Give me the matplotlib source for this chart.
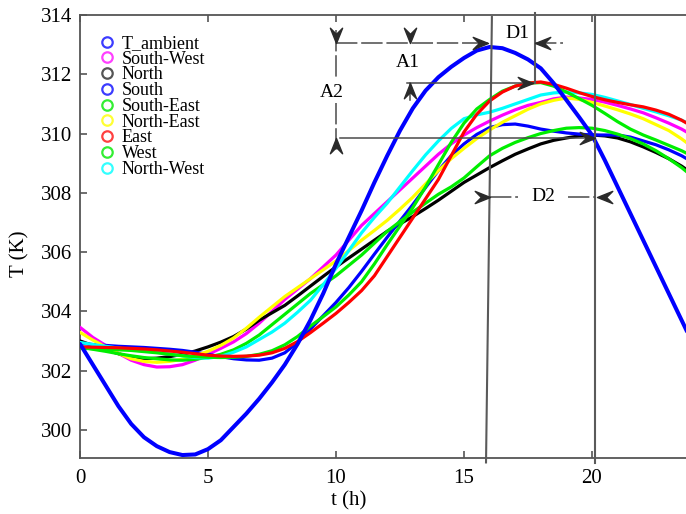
import matplotlib
matplotlib.use('Agg')
import matplotlib.pyplot as plt
from matplotlib.path import Path
from matplotlib.lines import Line2D

plt.rcParams['font.family'] = ['Liberation Serif', 'DejaVu Serif']

# ---------------- data (read every half hour) ----------------
hours = [0, 0.5, 1, 1.5, 2, 2.5, 3, 3.5, 4, 4.5, 5, 5.5, 6, 6.5, 7, 7.5, 8, 8.5, 9, 9.5, 10, 10.5,
         11, 11.5, 12, 12.5, 13, 13.5, 14, 14.5, 15, 15.5, 16, 16.5, 17, 17.5, 18, 18.5, 19, 19.5,
         20, 20.5, 21, 21.5, 22, 22.5, 23, 23.5, 24]

t_ambient = [302.9, 302.2, 301.5, 300.8, 300.2, 299.75, 299.45, 299.25, 299.15, 299.17, 299.35, 299.65,
             300.1, 300.55, 301.05, 301.6, 302.2, 302.9, 303.7, 304.6, 305.6, 306.5, 307.4, 308.35,
             309.25, 310.1, 310.85, 311.45, 311.9, 312.25, 312.55, 312.8, 312.92, 312.88, 312.72, 312.5,
             312.2, 311.7, 311.13, 310.55, 309.95, 309.1, 308.2, 307.3, 306.4, 305.5, 304.6, 303.7, 302.8]
south_west = [303.46, 303.12, 302.85, 302.58, 302.35, 302.2, 302.12, 302.13, 302.2, 302.35, 302.55, 302.75,
              302.97, 303.25, 303.6, 304.0, 304.4, 304.75, 305.1, 305.5, 305.9, 306.4, 306.9, 307.3,
              307.7, 308.1, 308.5, 308.9, 309.3, 309.65, 309.95, 310.2, 310.42, 310.62, 310.8, 310.95,
              311.05, 311.17, 311.23, 311.2, 311.15, 311.06, 310.95, 310.83, 310.7, 310.53, 310.35, 310.15, 309.9]
north = [303.0, 302.85, 302.7, 302.57, 302.45, 302.4, 302.42, 302.47, 302.55, 302.66, 302.8, 302.96,
         303.15, 303.4, 303.7, 303.95, 304.2, 304.52, 304.85, 305.18, 305.5, 305.8, 306.1, 306.4,
         306.7, 306.95, 307.2, 307.47, 307.75, 308.05, 308.35, 308.6, 308.85, 309.08, 309.3, 309.48,
         309.65, 309.77, 309.85, 309.92, 309.95, 309.92, 309.85, 309.72, 309.55, 309.36, 309.15, 308.9, 308.6]
south = [302.92, 302.88, 302.85, 302.82, 302.8, 302.78, 302.75, 302.72, 302.68, 302.62, 302.55, 302.47,
         302.4, 302.36, 302.35, 302.42, 302.6, 302.95, 303.4, 303.85, 304.3, 304.8, 305.35, 305.93,
         306.5, 307.05, 307.6, 308.18, 308.75, 309.25, 309.65, 309.97, 310.2, 310.3, 310.32, 310.25,
         310.15, 310.08, 310.02, 309.98, 309.95, 309.95, 309.95, 309.88, 309.75, 309.62, 309.45, 309.25, 309.0]
south_east = [302.75, 302.74, 302.72, 302.7, 302.68, 302.64, 302.6, 302.55, 302.5, 302.47, 302.45, 302.44,
              302.45, 302.48, 302.55, 302.67, 302.87, 303.15, 303.5, 303.82, 304.15, 304.55, 305.0, 305.6,
              306.25, 306.88, 307.5, 308.2, 308.95, 309.7, 310.35, 310.83, 311.15, 311.43, 311.6, 311.7,
              311.72, 311.6, 311.4, 311.18, 310.95, 310.68, 310.4, 310.15, 309.95, 309.78, 309.6, 309.42, 309.2]
north_east = [303.29, 303.03, 302.8, 302.58, 302.4, 302.31, 302.28, 302.31, 302.38, 302.5, 302.65, 302.85,
              303.1, 303.43, 303.8, 304.15, 304.5, 304.8, 305.1, 305.4, 305.7, 306.05, 306.4, 306.73,
              307.07, 307.45, 307.85, 308.3, 308.75, 309.15, 309.5, 309.83, 310.12, 310.38, 310.6, 310.82,
              311.0, 311.12, 311.2, 311.15, 311.05, 310.93, 310.8, 310.66, 310.5, 310.3, 310.1, 309.82, 309.5]
east = [302.8, 302.79, 302.78, 302.77, 302.75, 302.73, 302.7, 302.66, 302.62, 302.57, 302.52, 302.49,
        302.48, 302.49, 302.52, 302.6, 302.75, 302.98, 303.28, 303.6, 303.93, 304.3, 304.7, 305.2,
        305.85, 306.5, 307.15, 307.8, 308.45, 309.25, 310.05, 310.65, 311.1, 311.4, 311.6, 311.7,
        311.74, 311.66, 311.53, 311.38, 311.25, 311.14, 311.05, 310.97, 310.9, 310.79, 310.65, 310.45, 310.2]
west = [302.8, 302.72, 302.65, 302.57, 302.5, 302.44, 302.4, 302.36, 302.35, 302.38, 302.45, 302.55,
        302.7, 302.92, 303.2, 303.55, 303.9, 304.25, 304.6, 304.9, 305.2, 305.55, 305.9, 306.3,
        306.7, 307.03, 307.35, 307.65, 307.95, 308.2, 308.5, 308.88, 309.25, 309.5, 309.7, 309.86,
        310.0, 310.1, 310.18, 310.2, 310.18, 310.1, 309.98, 309.83, 309.65, 309.42, 309.15, 308.85, 308.5]
north_west = [302.95, 302.88, 302.82, 302.76, 302.7, 302.66, 302.62, 302.56, 302.5, 302.44, 302.42, 302.48,
              302.62, 302.8, 303.05, 303.3, 303.6, 303.97, 304.37, 304.9, 305.45, 306.05, 306.65, 307.17,
              307.65, 308.2, 308.75, 309.28, 309.75, 310.17, 310.5, 310.63, 310.72, 310.85, 311.0, 311.15,
              311.3, 311.37, 311.4, 311.37, 311.32, 311.22, 311.1, 310.98, 310.85, 310.73, 310.6, 310.45, 310.25]

labels = ['T_ambient', 'South-West', 'North', 'South', 'South-East', 'North-East', 'East', 'West', 'North-West']
line_colors = ['#0000ff', '#ff00ff', '#000000', '#0000ff', '#00ee00', '#ffff00', '#ff0000', '#00ee00', '#00ffff']
legend_colors = ['#3c3cff', '#ff40ff', '#555555', '#3c3cff', '#33ee33', '#ffff33', '#ff4040', '#33ee33', '#33ffff']
series = [t_ambient, south_west, north, south, south_east, north_east, east, west, north_west]

x_ticks = [0, 5, 10, 15, 20]
y_ticks = [300, 302, 304, 306, 308, 310, 312, 314]

# ---------------- figure ----------------
W, H = 686, 514
fig = plt.figure(figsize=(W / 100, H / 100), dpi=100)
ax = fig.add_axes([80 / W, 56 / H, 614.4 / W, 443 / H])

draw_order = [1, 2, 3, 5, 7, 8, 4, 6, 0]
for i in draw_order:
    lw = 2.9 if i == 0 else 2.3
    ax.plot(hours, series[i], color=line_colors[i], lw=lw, solid_capstyle='round',
            solid_joinstyle='round', zorder=3 if i else 4)

ax.set_xlim(0, 24)
ax.set_ylim(299.05, 314)
ax.set_xticks(x_ticks)
ax.set_yticks(y_ticks)
ax.tick_params(direction='in', length=5, width=1.2, color='#555555', labelsize=15,
               top=True, right=False)
ax.tick_params(axis='x', pad=8)
ax.tick_params(axis='y', pad=5.5)
for s in ['left', 'bottom', 'top']:
    ax.spines[s].set_color('#555555')
    ax.spines[s].set_linewidth(1.3)
ax.spines['right'].set_visible(False)

ax.set_xlabel('t (h)', fontsize=15)
ax.xaxis.set_label_coords(10.5 / 24, -0.076)
ax.set_ylabel('T (K)', fontsize=15)
ax.yaxis.set_label_coords(-0.083, 0.46)

# legend
handles = [Line2D([], [], linestyle='none', marker='o', markersize=7.5, markerfacecolor='none',
                  markeredgecolor=c, markeredgewidth=1.6) for c in legend_colors]
ax.legend(handles, labels, loc='upper left', bbox_to_anchor=(0.032, 0.955), frameon=False,
          fontsize=13, handlelength=0.8, handletextpad=0.43, labelspacing=-0.07,
          borderpad=0, borderaxespad=0)


# ---------------- annotations ----------------
def head(dx, dy):
    L, Wd, N = 1.0, 0.4, 0.6
    qx, qy = -dy, dx
    pts = [(0, 0), (-L * dx + Wd * qx, -L * dy + Wd * qy), (-N * dx, -N * dy),
           (-L * dx - Wd * qx, -L * dy - Wd * qy), (0, 0)]
    codes = [Path.MOVETO, Path.LINETO, Path.LINETO, Path.LINETO, Path.CLOSEPOLY]
    return Path(pts, codes)


def arrowhead(x, y, dx, dy):
    ax.plot([x], [y], marker=head(dx, dy), markersize=22, color='#2a2a2a', linestyle='none',
            clip_on=False, zorder=6)


gray = '#4a4a4a'
dash = (0, (14, 2.5))
kw = dict(color=gray, lw=1.1, clip_on=False, zorder=5)

# main vertical lines
ax.plot([16.09, 15.86], [313.93, 298.9], color='#5a5a5a', lw=1.5, clip_on=False, zorder=5)
ax.plot([20.12, 20.12], [314.0, 298.88], color='#5a5a5a', lw=1.5, clip_on=False, zorder=5)
ax.plot([17.77, 17.77], [314.07, 311.7], color='#5a5a5a', lw=1.5, clip_on=False, zorder=5)

# A1 (top) dashed horizontal arrow
ax.plot([10.0, 15.94], [313.05, 313.05], linestyle=dash, **kw)
arrowhead(15.94, 313.05, 1, 0)
arrowhead(12.9, 313.05, 0, -1)
# A2 vertical dimension
ax.plot([10.0, 10.0], [313.49, 311.91], linestyle=dash, **kw)
ax.plot([10.0, 10.0], [311.03, 309.34], linestyle=dash, **kw)
arrowhead(10.0, 313.05, 0, -1)
arrowhead(10.0, 309.85, 0, 1)
# second max level
ax.plot([12.77, 17.7], [311.7, 311.7], **kw)
ax.plot([12.9, 12.9], [311.13, 311.7], **kw)
arrowhead(12.9, 311.7, 0, 1)
arrowhead(17.7, 311.7, 1, 0)
# third level
ax.plot([10.16, 20.12], [309.85, 309.85], **kw)
arrowhead(20.12, 309.85, 1, 0)
# D1
ax.plot([17.77, 18.87], [313.05, 313.05], linestyle=dash, **kw)
arrowhead(17.77, 313.05, -1, 0)
# D2
ax.plot([16.0, 17.1], [307.86, 307.86], linestyle=dash, **kw)
ax.plot([19.07, 20.12], [307.86, 307.86], linestyle=dash, **kw)
arrowhead(16.0, 307.86, 1, 0)
arrowhead(20.2, 307.86, -1, 0)

tkw = dict(fontsize=14, ha='center', va='center', zorder=7)
ax.text(12.8, 312.41, 'A1', **tkw)
ax.text(9.84, 311.4, 'A2', bbox=dict(facecolor='white', edgecolor='none', pad=0.5), **tkw)
ax.text(17.1, 313.39, 'D1', **tkw)
ax.text(18.09, 307.86, 'D2', bbox=dict(facecolor='white', edgecolor='none', pad=0.5), **tkw)

fig.savefig('out.png', dpi=100)
